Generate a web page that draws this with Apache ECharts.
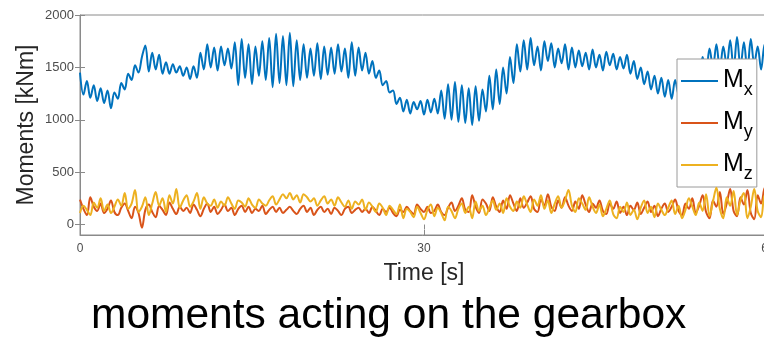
<!DOCTYPE html>
<html>
<head>
<meta charset="utf-8">
<script src="https://cdn.jsdelivr.net/npm/echarts@6/dist/echarts.min.js"></script>
<style>html,body{margin:0;padding:0;background:#fff;}#c{width:764px;height:338px;}</style>
</head>
<body>
<div id="c"></div>
<script>
// sampling step of the time axis [s]
const timeStep = 0.3;
const xTicks = [0, 30, 60];
const yTicks = [0, 500, 1000, 1500, 2000];
const seriesNames = ['Mx', 'My', 'Mz'];

const Mx = [
  1450,1240,1370,1210,1330,1180,1300,1160,1280,1110,1260,
  1200,1350,1290,1440,1380,1520,1450,
  1600,1710,1460,1640,1480,1620,1440,
  1550,1440,1530,1450,1510,1420,1500,1390,1510,1400,
  1640,1480,1720,1500,1690,1470,1700,1520,1680,1490,
  1740,1330,1770,1400,1720,1340,1700,1420,1750,1380,1780,1310,1820,1350,1800,1330,1830,1320,1760,
  1380,1720,1400,1680,1420,1730,1390,1700,1430,1690,
  1440,1720,1460,1680,1400,1740,1420,1690,1470,1640,
  1440,1560,1400,1470,1330,1370,1260,1280,1150,
  1210,1080,1190,1060,1170,1100,1180,1050,1190,1070,1200,1060,
  1280,1010,1340,1000,1360,980,1330,970,1300,950,1320,990,1290,
  1080,1420,1100,1480,1150,1500,1250,1600,1350,
  1720,1460,1760,1480,1780,1520,1700,1470,1750,1560,1730,1500,1680,1540,1720,1480,1690,
  1500,1660,1510,1640,1480,1670,1500,1620,1470,1650,1520,1630,1480,1600,1490,1620,
  1440,1560,1390,1500,1340,1460,1290,1420,1250,1400,1220,1380,1200,
  1380,1240,1420,1300,1480,1350,1530,1420,1600,
  1450,1680,1500,1720,1480,1700,1520,1760,1480,1790,1500,1740,1470,1770,1530,1700,1480,1720,1500
];

const My = [
  238,150,90,260,170,130,200,110,150,230,120,
  90,160,200,130,60,170,110,-30,140,190,
  120,70,180,140,90,210,150,100,170,130,
  160,110,190,140,80,150,200,120,170,100,
  140,190,130,160,90,150,180,120,170,110,
  150,130,180,100,140,170,120,160,110,140,
  170,130,100,150,180,120,160,90,140,170,
  120,150,100,160,130,90,150,170,110,140,
  160,120,150,110,170,130,90,150,120,160,
  110,80,140,120,170,130,100,190,150,120,
  170,110,130,190,120,90,160,210,130,180,
  250,140,120,280,170,110,240,200,130,260,
  170,120,230,150,280,200,130,250,160,210,
  270,150,120,240,180,290,170,130,230,160,
  260,180,130,220,150,280,190,120,200,160,
  230,130,100,200,150,220,110,170,90,180,
  140,210,100,160,220,120,180,80,150,200,
  120,170,240,130,90,200,150,250,110,180,
  280,120,60,230,170,310,100,200,340,130,
  80,260,190,330,110,50,280,200,350,150
];

const Mz = [
  110,180,140,90,210,160,250,130,190,110,170,
  240,180,300,150,200,330,120,170,260,90,
  200,310,180,250,120,280,200,340,160,230,
  280,170,220,300,150,260,200,180,240,160,
  220,180,260,200,150,230,210,170,250,190,
  160,240,200,180,230,270,190,240,290,250,
  300,240,280,210,290,260,220,250,180,230,
  270,200,240,180,260,210,170,230,150,220,
  190,240,140,210,170,120,200,160,90,180,
  140,100,190,60,150,120,70,170,110,50,
  140,190,80,160,110,40,170,130,60,150,
  200,110,170,60,220,130,180,90,160,230,
  140,200,110,250,170,130,220,160,270,190,
  120,240,180,280,150,230,110,200,270,160,
  230,330,180,120,250,200,140,260,170,110,
  190,80,150,230,100,60,170,120,210,90,
  140,50,160,230,110,170,70,200,140,90,
  160,230,100,180,60,140,250,170,90,210,
  130,290,80,220,350,150,60,260,180,320,
  90,230,300,60,170,340,130,70,280,200
];

const colors = ['#0072BD', '#D95319', '#EDB120'];
const FONT = '"Liberation Sans", Arial, Helvetica, sans-serif';

function pairs(vals) {
  return vals.map((v, i) => [Math.round(i * timeStep * 10) / 10, v]);
}

const chart = echarts.init(document.getElementById('c'), null, {renderer: 'canvas'});
const axisColor = '#8a8a8a';
const labelColor = '#4d4d4d';
const plain = v => String(v);

const option = {
  animation: false,
  backgroundColor: '#fff',
  textStyle: {fontFamily: FONT},
  title: {
    text: 'moments acting on the gearbox',
    left: 86,
    top: 290,
    textStyle: {fontFamily: FONT, fontSize: 42.5, fontWeight: 'normal', color: '#000'}
  },
  grid: {left: 80, top: 15, width: 688, height: 220, outerBoundsMode: 'none', containLabel: false,
         show: true, borderColor: axisColor, borderWidth: 1, backgroundColor: 'transparent'},
  legend: {
    orient: 'vertical',
    left: 677,
    top: 59,
    width: 78,
    padding: [4, 4, 4, 4],
    itemGap: 6,
    itemWidth: 37,
    itemHeight: 2,
    icon: 'rect',
    backgroundColor: '#fff',
    borderColor: '#9a9a9a',
    borderWidth: 1,
    data: seriesNames,
    formatter: function (n) { return '{m|M}{s|' + n.slice(1) + '}'; },
    textStyle: {
      color: '#000',
      rich: {
        m: {fontSize: 25, fontFamily: FONT, lineHeight: 36, verticalAlign: 'top', padding: [5, 0, 0, 0]},
        s: {fontSize: 18, fontFamily: FONT, lineHeight: 18, verticalAlign: 'bottom', padding: [18, 0, 0, 0]}
      }
    }
  },
  xAxis: [{
    type: 'value', min: 0, max: 60, interval: 30,
    name: 'Time [s]', nameLocation: 'middle', nameGap: 27, nameMoveOverlap: false,
    nameTextStyle: {fontFamily: FONT, fontSize: 23, color: '#262626'},
    axisLine: {show: true, onZero: false, lineStyle: {color: axisColor, width: 1}},
    axisTick: {show: true, inside: true, length: 5, lineStyle: {color: axisColor}},
    axisLabel: {show: true, color: labelColor, fontSize: 12, margin: 8, fontFamily: FONT, customValues: xTicks, formatter: plain},
    splitLine: {show: false}
  }, {
    type: 'value', min: 0, max: 60, interval: 30, position: 'top',
    axisLine: {show: false},
    axisTick: {show: true, inside: true, length: 5, lineStyle: {color: axisColor}},
    axisLabel: {show: false},
    splitLine: {show: false}
  }],
  yAxis: [{
    type: 'value', min: -100, max: 2000,
    name: 'Moments [kNm]', nameLocation: 'middle', nameGap: 42, nameRotate: 90, nameMoveOverlap: false,
    nameTextStyle: {fontFamily: FONT, fontSize: 23, color: '#262626'},
    axisLine: {show: true, onZero: false, lineStyle: {color: axisColor, width: 1}},
    axisTick: {show: true, inside: true, length: 5, lineStyle: {color: axisColor}, customValues: yTicks},
    axisLabel: {show: true, color: labelColor, fontSize: 13, margin: 6, fontFamily: FONT, customValues: yTicks, formatter: plain},
    splitLine: {show: false}
  }, {
    type: 'value', min: -100, max: 2000, position: 'right',
    axisLine: {show: false},
    axisTick: {show: true, inside: true, length: 5, lineStyle: {color: axisColor}, customValues: yTicks},
    axisLabel: {show: false, customValues: yTicks},
    splitLine: {show: false}
  }],
  series: [Mx, My, Mz].map((vals, i) => ({
    name: seriesNames[i],
    type: 'line',
    xAxisIndex: 0,
    yAxisIndex: 0,
    data: pairs(vals),
    showSymbol: false,
    smooth: 0.35,
    color: colors[i],
    lineStyle: {width: 2, color: colors[i]},
    z: 2 + i
  }))
};
chart.setOption(option);
</script>
</body>
</html>
